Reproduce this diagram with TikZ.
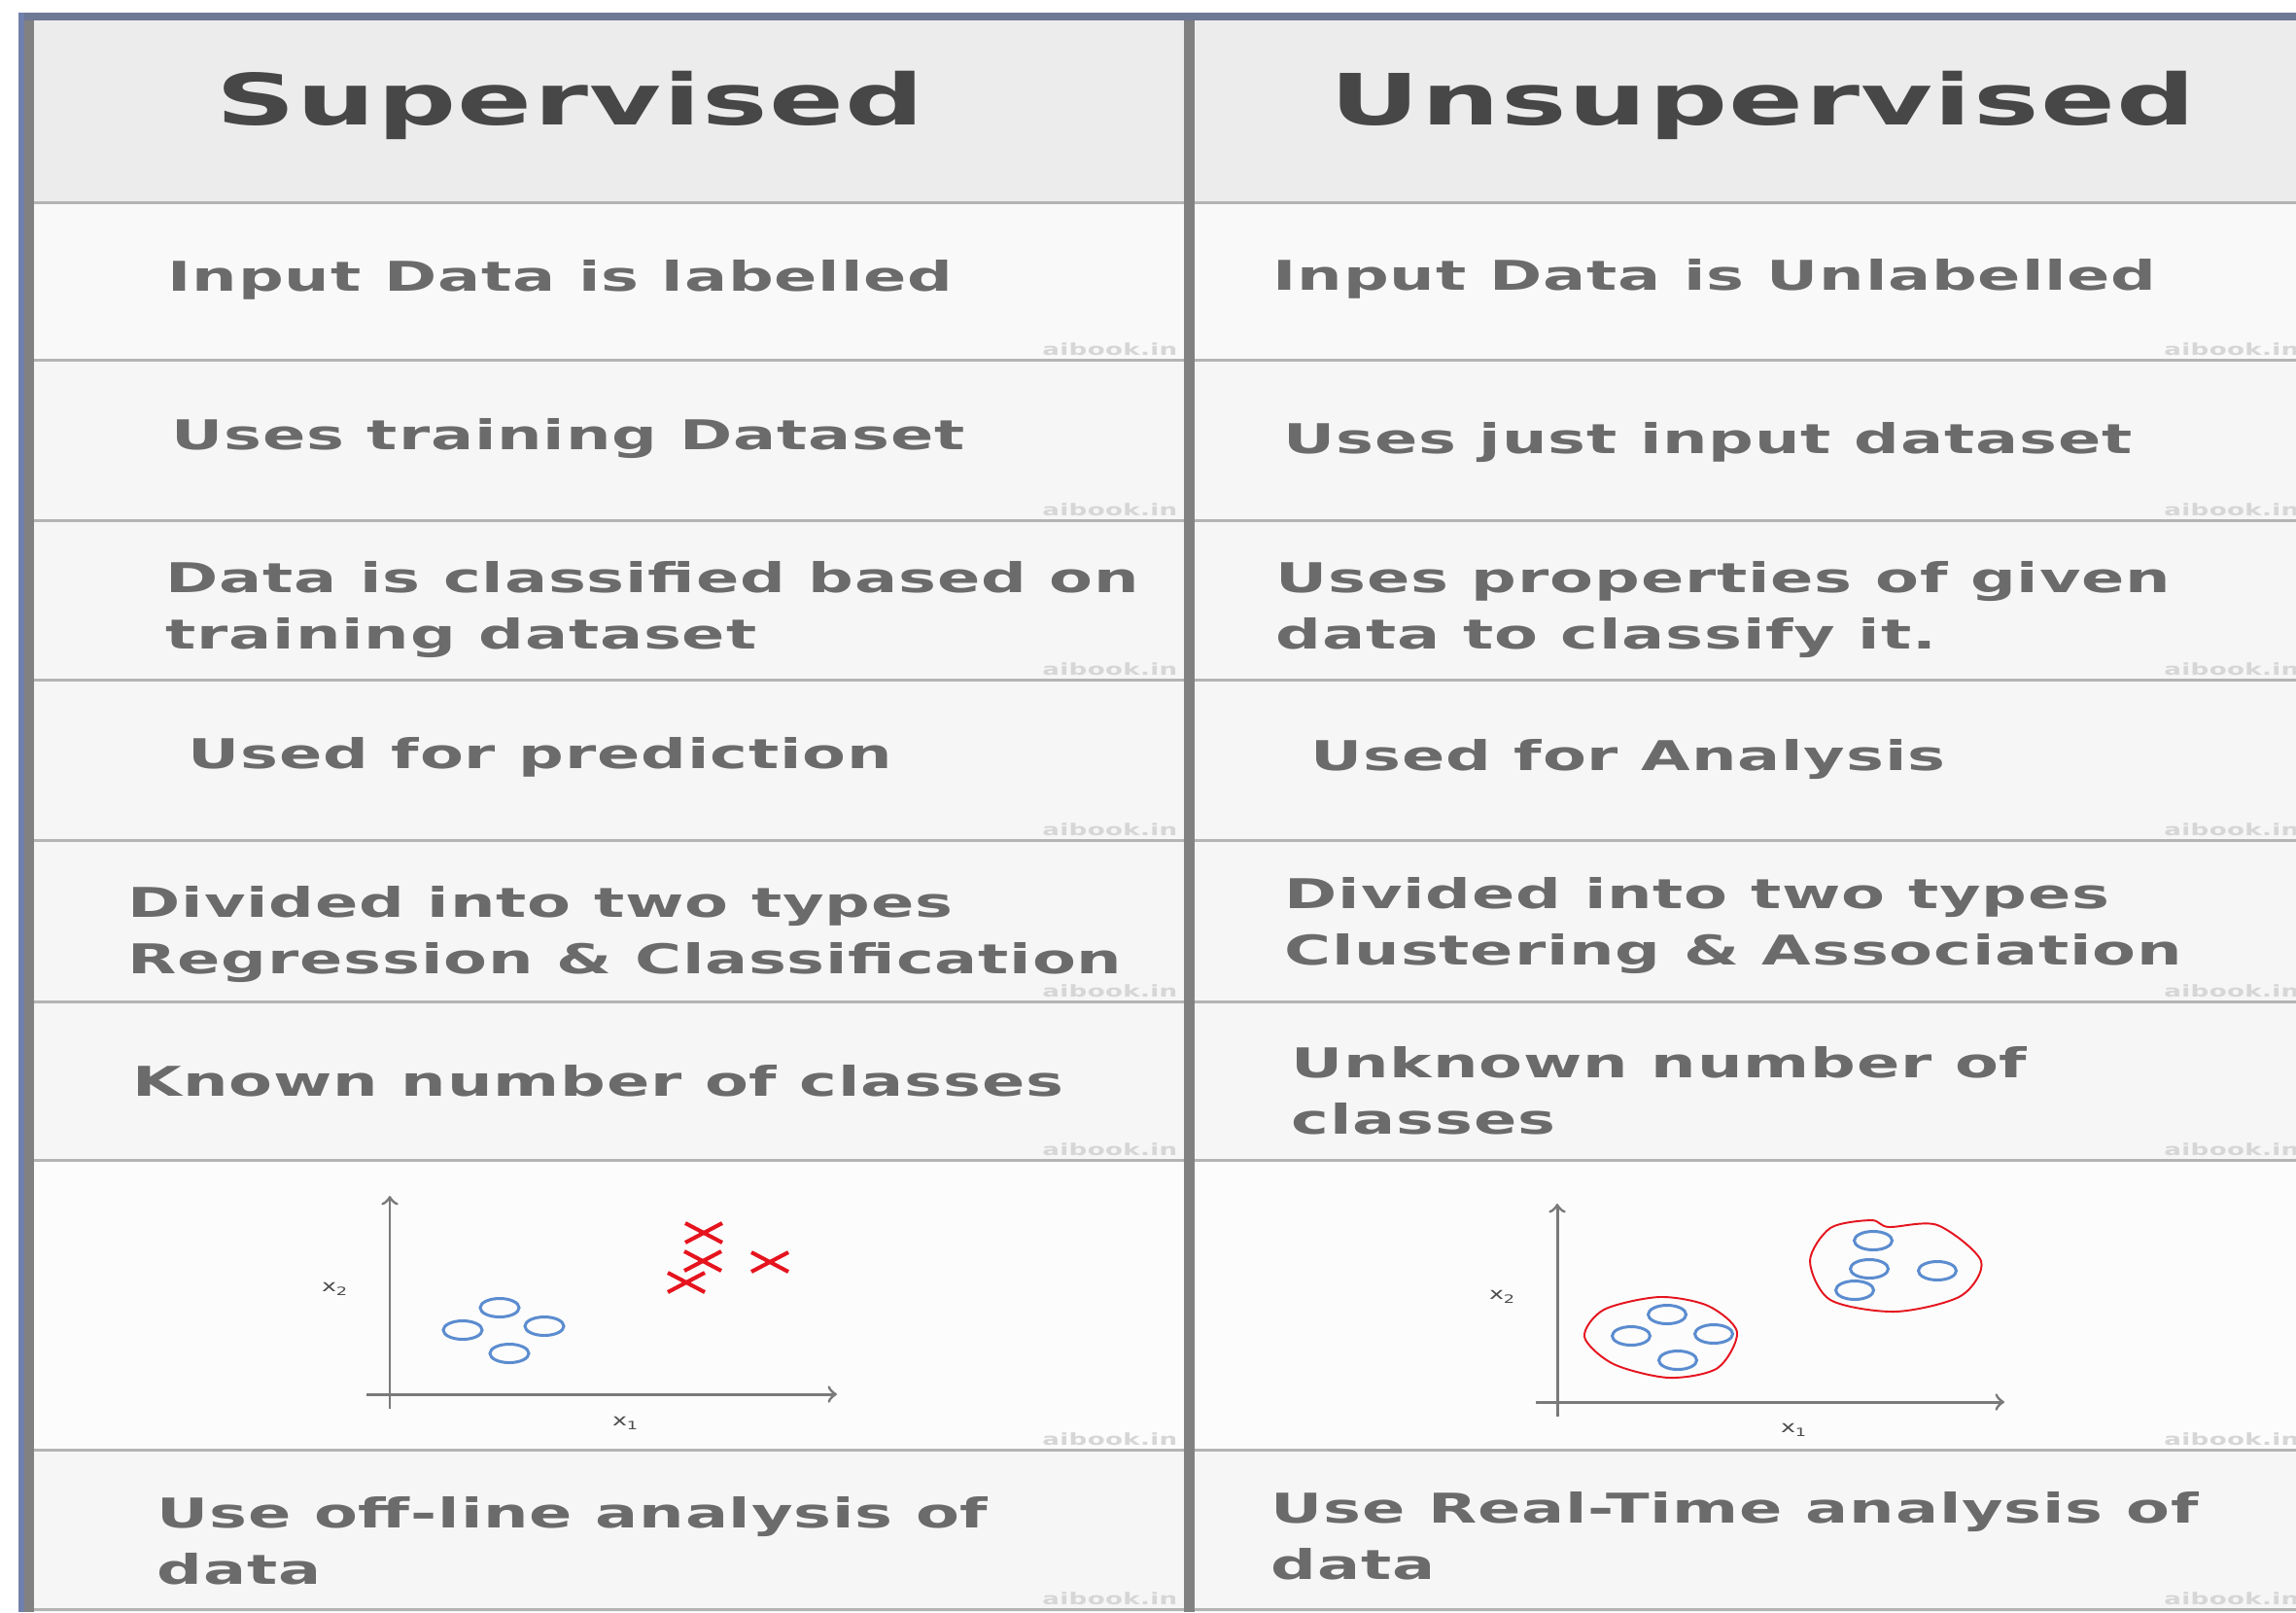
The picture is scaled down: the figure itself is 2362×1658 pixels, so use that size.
\documentclass[tikz,border=0pt]{standalone}
\usepackage{fontspec}
\setmainfont{DejaVu Sans}
\newfontfamily\cellfont{DejaVu Sans Bold}[FakeStretch=1.55, LetterSpace=2]
\newfontfamily\headfont{DejaVu Sans Bold}[FakeStretch=1.56, LetterSpace=2]
\newfontfamily\plainfont{DejaVu Sans}[FakeStretch=1.5]
\definecolor{txtgray}{HTML}{6B6B6B}
\definecolor{headgray}{HTML}{474747}
\definecolor{headfill}{HTML}{ECECEC}
\definecolor{rowfill}{HTML}{F6F6F6}
\definecolor{plotfill}{HTML}{FCFCFC}
\definecolor{rulegray}{HTML}{B4B4B4}
\definecolor{divgray}{HTML}{818181}
\definecolor{frameblue}{HTML}{7080AC}
\definecolor{frametop}{HTML}{6D7895}
\definecolor{ptblue}{HTML}{5B8CCF}
\definecolor{ptred}{HTML}{E5141E}
\definecolor{axisgray}{HTML}{7A7A7A}
\definecolor{wmgray}{HTML}{D6D6D6}

\begin{document}
\begin{tikzpicture}[x=0.1mm, y=-0.1mm,
  headtext/.style={anchor=base, inner sep=0pt, text=headgray,
    font=\headfont\fontsize{20.7}{24}\selectfont},
  celltext/.style={anchor=west, inner sep=0pt, align=left, text=txtgray,
    font=\cellfont\fontsize{12}{16.5}\selectfont},
  wmark/.style={anchor=base east, inner sep=0pt, text=wmgray,
    font=\cellfont\fontsize{4.8}{5}\selectfont},
  axlabel/.style={inner sep=0pt, text=black!70,
    font=\plainfont\fontsize{4.8}{6}\selectfont},
  rowline/.style={draw=rulegray, line width=0.85pt},
  axisline/.style={draw=axisgray, line width=0.85pt},
  ring/.style={draw=ptblue, line width=0.85pt},
  cross/.style={draw=ptred, line width=1.15pt},
  blob/.style={draw=ptred, line width=0.55pt}]
\useasboundingbox (0,0) rectangle (2362,1658);
\fill[white] (0,0) rectangle (2362,1658);
% table background
\fill[headfill] (34,21) rectangle (2362,208);
\fill[rowfill] (34,208) rectangle (2362,1658);
\fill[plotfill] (34,1193) rectangle (2362,1491);
\fill[plotfill!50!rowfill] (34,208) rectangle (2362,370);
% frame
\fill[frametop] (19,13) rectangle (2362,21);
\fill[frameblue] (19,13) rectangle (25,1658);
\fill[divgray] (25,21) rectangle (35,1658);
\foreach \y in {208,370,535,699,864,1030,1193,1491,1655}
  \draw[rowline] (35,\y) -- (2362,\y);
\fill[divgray] (1218,21) rectangle (1229,1658);
% headers
\node[headtext] (sup) at (587,128) {Supervised};
\node[headtext] (unsup) at (1814,128) {Unsupervised};
%% left column
\node[celltext] (s1) at (172,288) {Input Data is labelled};
\node[celltext] (s2) at (176,451) {Uses training Dataset};
\node[celltext] (s3) at (170,627) {Data is classified based on\\training dataset};
\node[celltext] (s4) at (193,779) {Used for prediction};
\node[celltext] (s5) at (131,961) {Divided into two types\\Regression \& Classification};
\node[celltext] (s6) at (136,1112) {Known number of classes};
\node[celltext] (s7) at (161,1585) {Use off-line analysis of\\data};
%% right column
\node[celltext] (u1) at (1309,287) {Input Data is Unlabelled};
\node[celltext] (u2) at (1320,455) {Uses just input dataset};
\node[celltext] (u3) at (1312,627) {Uses properties of given\\data to classify it.};
\node[celltext] (u4) at (1348,781) {Used for Analysis};
\node[celltext] (u5) at (1321,952) {Divided into two types\\Clustering \& Association};
\node[celltext] (u6) at (1328,1122) {Unknown number of\\classes};
\node[celltext] (u7) at (1307,1580) {Use Real-Time analysis of\\data};
% watermarks
\foreach \y [count=\i] in {370,535,699,864,1030,1193,1491,1655} {
  \node[wmark] (wl\i) at (1212,\y-5) {aibook.in};
  \node[wmark] (wr\i) at (2366,\y-5) {aibook.in};
}
%% plot supervised
\coordinate (xa1) at (377,1434);
\coordinate (xb1) at (861,1434);
\coordinate (ya1) at (401,1449);
\coordinate (yb1) at (401,1230);
\draw[axisline,->] (xa1) -- (xb1);
\draw[axisline,->] (ya1) -- (yb1);
\node[axlabel] (xl1) at (644,1464) {x\textsubscript{1}};
\node[axlabel] (yl1) at (345,1326) {x\textsubscript{2}};
\foreach \p in {(514,1345),(476,1368),(560,1364),(524,1392)}
  \draw[ring] \p ellipse (20 and 9.5);
\foreach \p in {(724,1268),(723,1297),(706,1319),(792,1298)}
  \draw[cross] \p +(-19,-10) -- +(19,10) +(-19,10) -- +(19,-10);
%% plot unsupervised
\coordinate (xa2) at (1580,1442);
\coordinate (xb2) at (2062,1442);
\coordinate (ya2) at (1602,1457);
\coordinate (yb2) at (1602,1238);
\draw[axisline,->] (xa2) -- (xb2);
\draw[axisline,->] (ya2) -- (yb2);
\node[axlabel] (xl2) at (1846,1471) {x\textsubscript{1}};
\node[axlabel] (yl2) at (1546,1334) {x\textsubscript{2}};
\foreach \p in {(1715,1352),(1678,1374),(1763,1372),(1726,1399),
  (1927,1276),(1923,1305),(1993,1307),(1908,1327)}
  \draw[ring] \p ellipse (19.5 and 9.5);
\draw[blob] plot[smooth cycle] coordinates {(1630,1375) (1650,1347) (1707,1334)
  (1757,1343) (1787,1370) (1767,1407) (1717,1417) (1660,1403)};
\draw[blob] plot[smooth cycle] coordinates {(1862,1297) (1883,1263) (1925,1255)
  (1943,1262) (1993,1260) (2038,1297) (2017,1333) (1950,1349) (1883,1337)};
\end{tikzpicture}
\end{document}
